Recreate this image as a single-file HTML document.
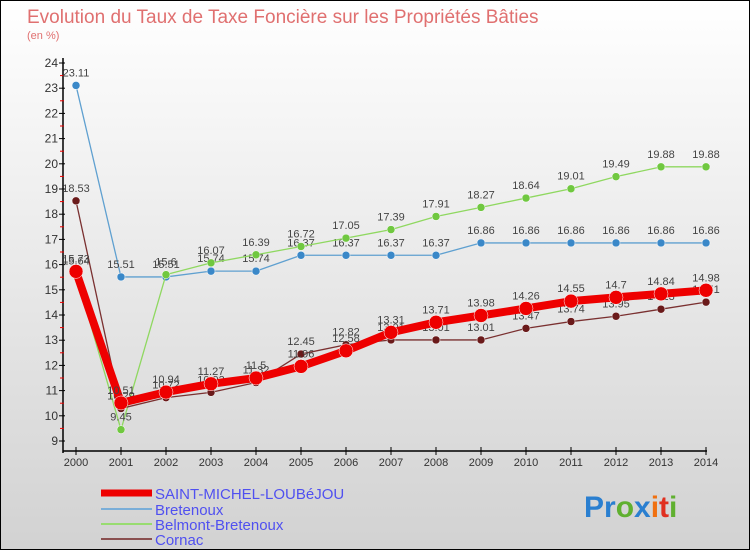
<!DOCTYPE html>
<html><head><meta charset="utf-8"><style>
body{margin:0;width:750px;height:550px;overflow:hidden;font-family:"Liberation Sans",sans-serif}
#wrap{position:relative;width:748px;height:548px;border:1px solid #000;background:linear-gradient(#ffffff,#d2d2d2)}
</style></head><body>
<div id="wrap">
<svg id="chart" width="748" height="548" style="position:absolute;left:0;top:0">
<text x="26" y="22" font-size="19" fill="#e07070">Evolution du Taux de Taxe Foncière sur les Propriétés Bâties</text>
<text x="26" y="38" font-size="11" fill="#e07070">(en %)</text>
<g id="axes"></g><g id="series"></g>
<g id="legend"></g>
<text x="583" y="516" font-size="30" font-weight="bold"><tspan fill="#2a7fd0">Pr</tspan><tspan fill="#60b030">o</tspan><tspan fill="#2a7fd0">x</tspan><tspan fill="#f07010">i</tspan><tspan fill="#e03020">t</tspan><tspan fill="#60b030">i</tspan></text>
</svg></div>
<script>
const years=[2000,2001,2002,2003,2004,2005,2006,2007,2008,2009,2010,2011,2012,2013,2014];
const yTicks=[9,10,11,12,13,14,15,16,17,18,19,20,21,22,23,24];
const saintMichel=[15.73,10.51,10.94,11.27,11.5,11.96,12.58,13.31,13.71,13.98,14.26,14.55,14.7,14.84,14.98];
const bretenoux=[23.11,15.51,15.51,15.74,15.74,16.37,16.37,16.37,16.37,16.86,16.86,16.86,16.86,16.86,16.86];
const belmont=[15.64,9.45,15.6,16.07,16.39,16.72,17.05,17.39,17.91,18.27,18.64,19.01,19.49,19.88,19.88];
const cornac=[18.53,10.29,10.72,10.93,11.32,12.45,12.82,13.01,13.01,13.01,13.47,13.74,13.95,14.23,14.51];
const NS="http://www.w3.org/2000/svg";
const X=i=>75+i*45, Y=v=>440-(v-9)*25.2;
function mk(p,t,a){const e=document.createElementNS(NS,t);for(const k in a)e.setAttribute(k,a[k]);p.appendChild(e);return e;}
const ax=document.getElementById('axes');
let l=mk(ax,'line',{x1:62,y1:57,x2:62,y2:452,stroke:'#000','stroke-width':1.5});


l=mk(ax,'line',{x1:62,y1:450,x2:706,y2:450,stroke:'#000','stroke-width':1.5});


yTicks.forEach(v=>{mk(ax,'line',{x1:58,y1:Y(v),x2:64,y2:Y(v),stroke:'#000'});
 if(v<24)mk(ax,'line',{x1:59,y1:Y(v+0.5),x2:63,y2:Y(v+0.5),stroke:'#e00'});
 const t=mk(ax,'text',{x:57,y:Y(v)+4,'font-size':12,'text-anchor':'end',fill:'#333'});t.textContent=v;
 
 });
years.forEach((y,i)=>{mk(ax,'line',{x1:X(i),y1:446,x2:X(i),y2:454,stroke:'#000'});
 const t=mk(ax,'text',{x:X(i),y:465,'font-size':11,'text-anchor':'middle',fill:'#333'});t.textContent=y;
 
 });
const sg=document.getElementById('series');
function draw(data,color,w,r,name,dot){
 const g=mk(sg,'g',{});
 
 
 mk(g,'polyline',{points:data.map((v,i)=>X(i)+','+Y(v)).join(' '),fill:'none',stroke:color,'stroke-width':w,'stroke-linejoin':'round'});
 data.forEach((v,i)=>{const c=mk(g,'circle',{cx:X(i),cy:Y(v),r:r,fill:dot,stroke:'#fff','stroke-width':0.5});
  
  
  const t=mk(g,'text',{x:X(i),y:Y(v)-9,'font-size':11,'text-anchor':'middle',fill:'#444'});t.textContent=v;
  
  });
}
draw(bretenoux,'#5fa0d0',1.3,4,'bretenoux','#3a88c8');
draw(belmont,'#8fd860',1.3,4,'belmont-bretenoux','#70c840');
draw(cornac,'#7a3030',1.3,4,'cornac','#6a1a1a');
draw(saintMichel,'#ee0000',8,7,'saint-michel-loubejou','#ee0000');
const lg=document.getElementById('legend');
[['SAINT-MICHEL-LOUBéJOU','#ee0000',7,492],['Bretenoux','#7aaed8',2,508],['Belmont-Bretenoux','#98dc70',2,523],['Cornac','#8a5050',2,538]].forEach(e=>{
 const g=mk(lg,'g',{});
 
 
 mk(g,'line',{x1:100,y1:e[3],x2:151,y2:e[3],stroke:e[1],'stroke-width':e[2]});
 const t=mk(g,'text',{x:154,y:e[3]+6,'font-size':15,fill:'#5050f0'});t.textContent=e[0];
});
</script></body></html>
